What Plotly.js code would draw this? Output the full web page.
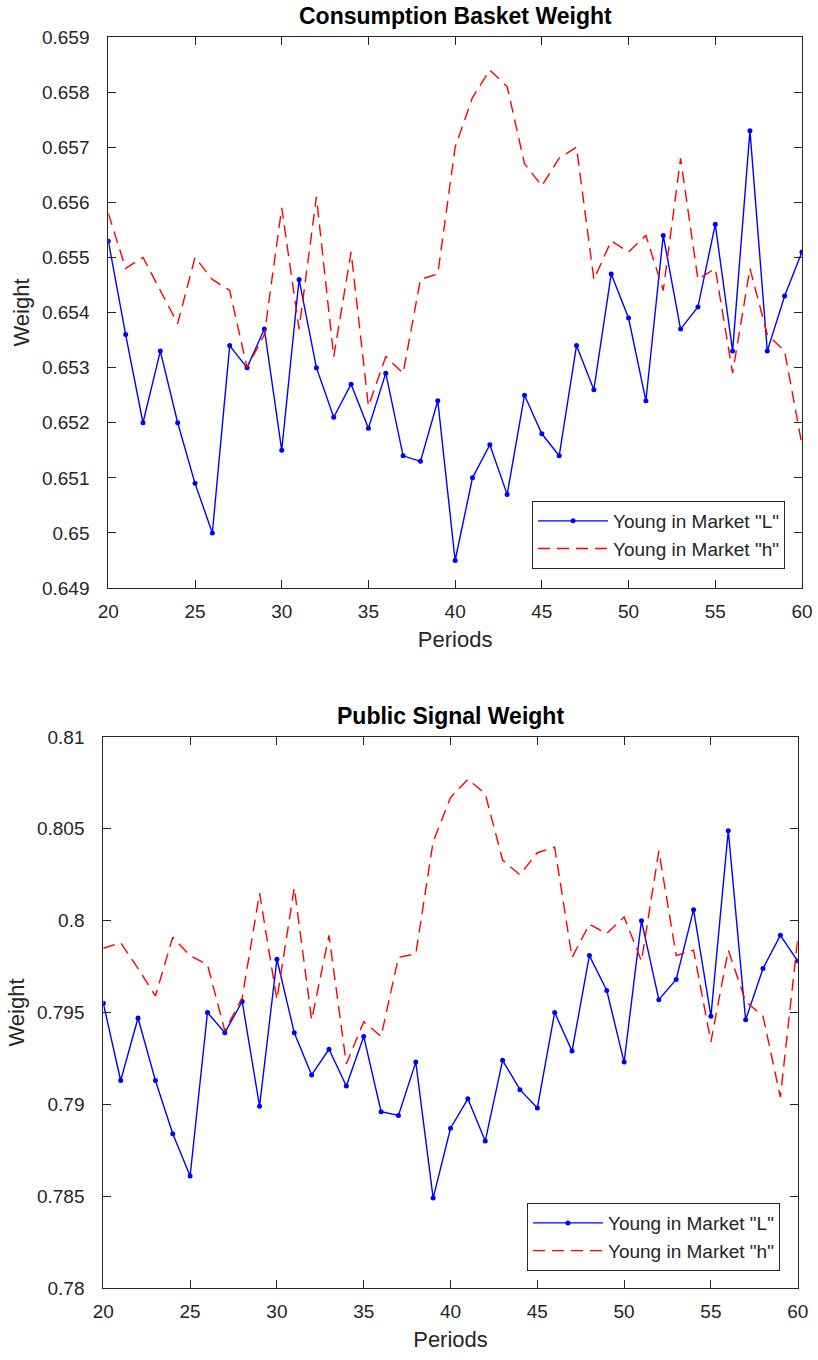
<!DOCTYPE html>
<html>
<head>
<meta charset="utf-8">
<script src="https://cdn.plot.ly/plotly-3.0.1.min.js"></script>
<style>html,body{margin:0;padding:0;background:#fff;}#chart{width:818px;height:1360px;}</style>
</head>
<body>
<div id="chart"></div>
<script>
const periods = [20,21,22,23,24,25,26,27,28,29,30,31,32,33,34,35,36,37,38,39,40,41,42,43,44,45,46,47,48,49,50,51,52,53,54,55,56,57,58,59,60];

const consumptionL = [0.6553,0.6536,0.6520,0.6533,0.6520,0.6509,0.6500,0.6534,0.6530,0.6537,
  0.6515,0.6546,0.6530,0.6521,0.6527,0.6519,0.6529,0.6514,0.6513,0.6524,
  0.6495,0.6510,0.6516,0.6507,0.6525,0.6518,0.6514,0.6534,0.6526,0.6547,
  0.6539,0.6524,0.6554,0.6537,0.6541,0.6556,0.6533,0.6573,0.6533,0.6543,
  0.6551];
const consumptionH = [0.6558,0.6548,0.6550,0.6544,0.6538,0.6550,0.6546,0.6544,0.6530,0.6536,
  0.6559,0.6537,0.6561,0.6532,0.6551,0.6523,0.6532,0.6529,0.6546,0.6547,
  0.6570,0.6579,0.6584,0.6581,0.6567,0.6563,0.6568,0.6570,0.6546,0.6553,
  0.6551,0.6554,0.6544,0.6568,0.6546,0.6548,0.6529,0.6548,0.6536,0.6533,
  0.6516];
const publicL = [0.7955,0.7913,0.7947,0.7913,0.7884,0.7861,0.7950,0.7939,0.7956,0.7899,
  0.7979,0.7939,0.7916,0.7930,0.7910,0.7937,0.7896,0.7894,0.7923,0.7849,
  0.7887,0.7903,0.7880,0.7924,0.7908,0.7898,0.7950,0.7929,0.7981,0.7962,
  0.7923,0.8000,0.7957,0.7968,0.8006,0.7948,0.8049,0.7946,0.7974,0.7992,
  0.7978];
const publicH = [0.7985,0.7988,0.7974,0.7959,0.7991,0.7981,0.7976,0.7940,0.7958,0.8015,
  0.7957,0.8018,0.7946,0.7992,0.7922,0.7945,0.7937,0.7980,0.7982,0.8043,
  0.8067,0.8077,0.8069,0.8033,0.8025,0.8037,0.8040,0.7980,0.7998,0.7993,
  0.8002,0.7978,0.8038,0.7981,0.7984,0.7934,0.7984,0.7956,0.7948,0.7904,
  0.7990];

const xTicks = [20,25,30,35,40,45,50,55,60];
const yTicksTop = [0.649,0.650,0.651,0.652,0.653,0.654,0.655,0.656,0.657,0.658,0.659];
const yTickTextTop = ['0.649','0.65','0.651','0.652','0.653','0.654','0.655','0.656','0.657','0.658','0.659'];
const yTicksBottom = [0.78,0.785,0.79,0.795,0.80,0.805,0.81];
const yTickTextBottom = ['0.78','0.785','0.79','0.795','0.8','0.805','0.81'];

const titles = ['Consumption Basket Weight','Public Signal Weight'];
const seriesNames = ['Young in Market "L"','Young in Market "h"'];

const FONT = 'Liberation Sans, Arial, Helvetica, sans-serif';
const TXT = '#262626';
const blue = '#0000ff';
const red = '#ff0000';

function lineL(x, y, xa, ya, leg) {
  return {x:x, y:y, xaxis:xa, yaxis:ya, type:'scatter', mode:'lines+markers', name:seriesNames[0],
    legend:leg, line:{color:blue, width:1.4}, marker:{color:blue, size:5, symbol:'circle'}};
}
function lineH(x, y, xa, ya, leg) {
  return {x:x, y:y, xaxis:xa, yaxis:ya, type:'scatter', mode:'lines', name:seriesNames[1],
    legend:leg, line:{color:red, width:1.4, dash:'12px,7px'}};
}

const data = [
  lineL(periods, consumptionL, 'x', 'y', 'legend'),
  lineH(periods, consumptionH, 'x', 'y', 'legend'),
  lineL(periods, publicL, 'x2', 'y2', 'legend2'),
  lineH(periods, publicH, 'x2', 'y2', 'legend2')
];

function xaxisDef(domain, anchor) {
  return {domain:domain, anchor:anchor, range:[20,60], tickvals:xTicks, ticks:'inside', ticklen:8,
    tickcolor:TXT, showline:true, linecolor:TXT, linewidth:1, mirror:'ticks', showgrid:false, zeroline:false,
    ticklabelstandoff:6,
    tickfont:{family:FONT, size:19, color:TXT},
    title:{text:'Periods', font:{family:FONT, size:22, color:TXT}, standoff:10}};
}
function yaxisDef(domain, anchor, range, vals, text) {
  return {domain:domain, anchor:anchor, range:range, tickvals:vals, ticktext:text, ticks:'inside', ticklen:8,
    tickcolor:TXT, showline:true, linecolor:TXT, linewidth:1, mirror:'ticks', showgrid:false, zeroline:false,
    ticklabelstandoff:14,
    tickfont:{family:FONT, size:19, color:TXT},
    title:{text:'Weight', font:{family:FONT, size:22, color:TXT}, standoff:6}};
}

const legendStyle = {bgcolor:'#ffffff', bordercolor:TXT, borderwidth:1, font:{family:FONT, size:19, color:TXT},
  xanchor:'right', yanchor:'bottom', itemwidth:70, tracegroupgap:0};

const layout = {
  width:818, height:1360, margin:{l:0, r:0, t:0, b:0},
  paper_bgcolor:'#ffffff', plot_bgcolor:'#ffffff', showlegend:true,
  xaxis: xaxisDef([0.1324,0.9804], 'y'),
  yaxis: yaxisDef([0.5676,0.9728], 'x', [0.649,0.659], yTicksTop, yTickTextTop),
  xaxis2: xaxisDef([0.1263,0.9752], 'y2'),
  yaxis2: yaxisDef([0.0529,0.4581], 'x2', [0.78,0.81], yTicksBottom, yTickTextBottom),
  legend: Object.assign({x:0.9597, y:0.5816}, legendStyle),
  legend2: Object.assign({x:0.9535, y:0.0654}, legendStyle),
  annotations: [
    {text:'<b>'+titles[0]+'</b>', xref:'paper', yref:'paper', x:0.5564, y:0.9728, xanchor:'center', yanchor:'bottom',
     yshift:6, showarrow:false, font:{family:FONT, size:23, color:'#000'}},
    {text:'<b>'+titles[1]+'</b>', xref:'paper', yref:'paper', x:0.5508, y:0.4581, xanchor:'center', yanchor:'bottom',
     yshift:6, showarrow:false, font:{family:FONT, size:23, color:'#000'}}
  ]
};

Plotly.newPlot('chart', data, layout, {displayModeBar:false, staticPlot:true});
</script>
</body>
</html>
